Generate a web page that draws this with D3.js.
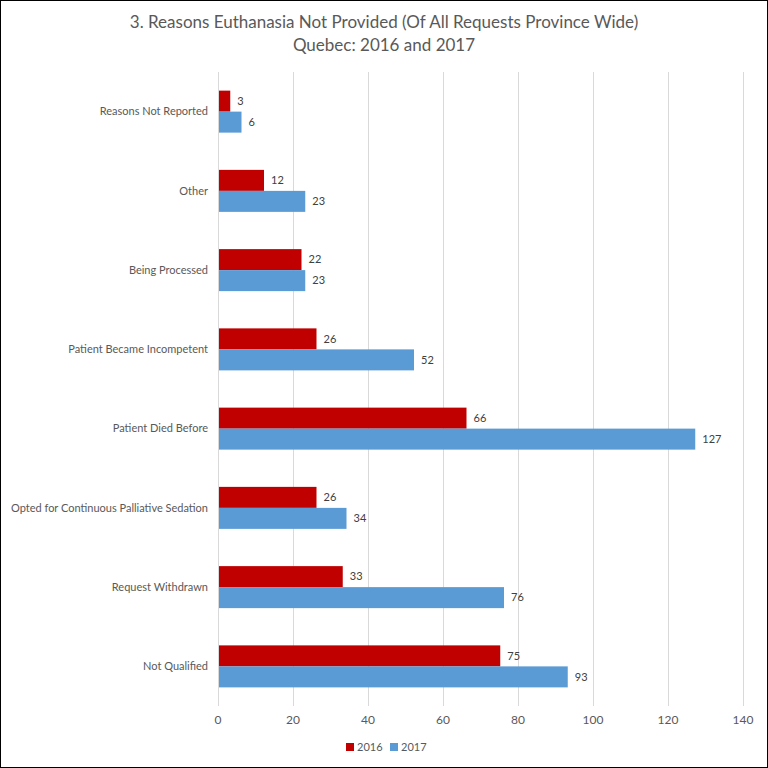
<!DOCTYPE html>
<html>
<head>
<meta charset="utf-8">
<script src="https://cdn.jsdelivr.net/npm/d3@7"></script>
<style>
  body { margin: 0; background: #fff; }
  svg { font-family: Lato, "Open Sans", sans-serif; }
</style>
</head>
<body>
<div id="chart"></div>
<script>
const categories = [
  "Reasons Not Reported",
  "Other",
  "Being Processed",
  "Patient Became Incompetent",
  "Patient Died Before",
  "Opted for Continuous Palliative Sedation",
  "Request Withdrawn",
  "Not Qualified"
];
const series = ["2016", "2017"];
const values2016 = [3, 12, 22, 26, 66, 26, 33, 75];
const values2017 = [6, 23, 23, 52, 127, 34, 76, 93];
const ticks = [0, 20, 40, 60, 80, 100, 120, 140];
const colors = ["#C00000", "#5B9BD5"];

const width = 768,
    height = 768,
    margin = { top: 72, right: 24, bottom: 62, left: 218 };

const svg = d3.select("#chart").append("svg")
    .attr("width", width)
    .attr("height", height);

// outer frame
svg.append("rect")
    .attr("x", 0.5).attr("y", 0.5)
    .attr("width", width - 1).attr("height", height - 1)
    .attr("fill", "#fff")
    .attr("stroke", "#000");

svg.append("text")
    .attr("x", width / 2).attr("y", 28)
    .attr("text-anchor", "middle")
    .attr("fill", "#595959")
    .style("font-size", "17px")
    .text("3. Reasons Euthanasia Not Provided (Of All Requests Province Wide)");

svg.append("text")
    .attr("x", width / 2).attr("y", 51)
    .attr("text-anchor", "middle")
    .attr("fill", "#595959")
    .style("font-size", "17px")
    .text("Quebec: 2016 and 2017");

const x = d3.scaleLinear()
    .domain([0, 140])
    .range([margin.left, 743]);

const y = d3.scaleBand()
    .domain(categories)
    .range([margin.top, height - margin.bottom])
    .paddingInner(0.47)
    .paddingOuter(0.235);

const ySub = d3.scaleBand()
    .domain(series)
    .range([0, y.bandwidth()]);

// gridlines
svg.append("g")
  .selectAll("line")
    .data(ticks)
  .enter().append("line")
    .attr("x1", d => x(d) + 0.5)
    .attr("x2", d => x(d) + 0.5)
    .attr("y1", margin.top)
    .attr("y2", height - margin.bottom)
    .attr("stroke", "#D9D9D9")
    .attr("stroke-width", 1);

// x tick labels
svg.append("g")
  .selectAll("text")
    .data(ticks)
  .enter().append("text")
    .attr("x", d => x(d))
    .attr("y", 724)
    .attr("text-anchor", "middle")
    .attr("fill", "#595959")
    .style("font-size", "12px")
    .text(d => d);

// category labels
svg.append("g")
  .selectAll("text")
    .data(categories)
  .enter().append("text")
    .attr("x", margin.left - 10)
    .attr("y", d => y(d) + y.bandwidth() / 2)
    .attr("dy", "0.35em")
    .attr("text-anchor", "end")
    .attr("fill", "#595959")
    .style("font-size", "11px")
    .text(d => d);

const rows = [];
categories.forEach(function(c, i) {
  rows.push({ cat: c, key: "2016", value: values2016[i], color: colors[0] });
  rows.push({ cat: c, key: "2017", value: values2017[i], color: colors[1] });
});

const bars = svg.append("g")
  .selectAll("g")
    .data(rows)
  .enter().append("g");

bars.append("rect")
    .attr("x", x(0) + 1)
    .attr("y", d => y(d.cat) + ySub(d.key))
    .attr("width", d => x(d.value) - x(0))
    .attr("height", ySub.bandwidth())
    .attr("fill", d => d.color);

bars.append("text")
    .attr("x", d => x(d.value) + 8)
    .attr("y", d => y(d.cat) + ySub(d.key) + ySub.bandwidth() / 2)
    .attr("dy", "0.35em")
    .attr("fill", "#404040")
    .style("font-size", "11px")
    .text(d => d.value);

// legend
const legend = svg.append("g")
    .attr("transform", "translate(346,747)");

const items = legend.selectAll("g")
    .data(series)
  .enter().append("g")
    .attr("transform", (d, i) => "translate(" + (i * 44) + ",0)");

items.append("rect")
    .attr("x", 0).attr("y", -4)
    .attr("width", 8).attr("height", 8)
    .attr("fill", (d, i) => colors[i]);

items.append("text")
    .attr("x", 11)
    .attr("y", 0)
    .attr("dy", "0.35em")
    .attr("fill", "#595959")
    .style("font-size", "11px")
    .text(d => d);
</script>
</body>
</html>
